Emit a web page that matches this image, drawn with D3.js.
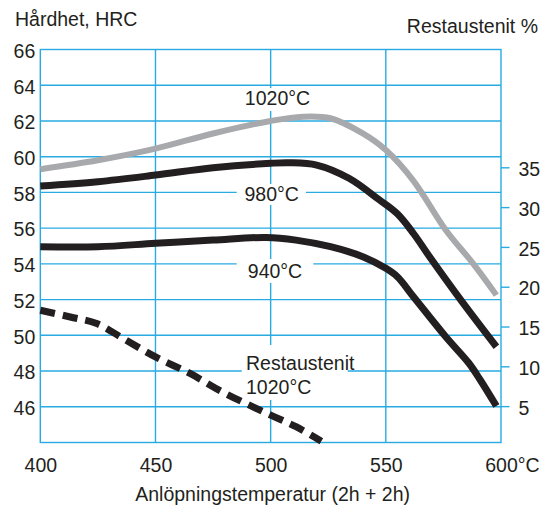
<!DOCTYPE html>
<html>
<head>
<meta charset="utf-8">
<script src="https://cdn.jsdelivr.net/npm/d3@7"></script>
<style>
  html, body { margin: 0; padding: 0; background: #fff; }
  svg { display: block; }
  text { font-family: "Liberation Sans", Arial, Helvetica, sans-serif; fill: #231f20; }
</style>
</head>
<body>
<svg id="chart" width="545" height="508"></svg>
<script>
// ---- data ----
const xTicks = [400, 450, 500, 550, 600];
const yTicks = [46, 48, 50, 52, 54, 56, 58, 60, 62, 64, 66];
const y2Ticks = [5, 10, 15, 20, 25, 30, 35];

const temps1020 = [400, 425, 450, 475, 500, 514, 526, 540, 550, 562, 576, 588, 598];
const hrc1020   = [59.3, 59.8, 60.45, 61.3, 62.0, 62.24, 62.15, 61.3, 60.37, 58.65, 55.9, 54.0, 52.25];

const temps980 = [400, 425, 450, 475, 500, 508, 520, 534, 547, 555, 562, 569, 583, 598];
const hrc980   = [58.36, 58.6, 58.97, 59.38, 59.63, 59.66, 59.53, 58.79, 57.6, 56.8, 55.7, 54.4, 51.9, 49.36];

const temps940 = [400, 425, 450, 475, 498, 511, 526, 540, 550, 555, 562, 576, 586, 591, 598];
const hrc940   = [54.96, 54.96, 55.15, 55.33, 55.48, 55.33, 54.96, 54.4, 53.75, 53.28, 52.16, 49.92, 48.45, 47.5, 46.04];

const tempsRA = [400, 413, 424.5, 436, 450, 465, 479, 500, 511, 522];
const pctRA   = [17.04, 16.2, 15.37, 13.49, 11.18, 9.1, 6.79, 3.87, 2.41, 0.6];

// ---- layout ----
const L = 40.3, R = 501, T = 49.5, B = 442.5;
const blue = "#29abe2", black = "#231f20", grey = "#a7a9ac";
const fs = 19.5;

const svg = d3.select("#chart");
const x = d3.scaleLinear().domain([400, 600]).range([L, R]);
const y = d3.scaleLinear().domain([44, 66]).range([B, T]);
const y2 = d3.scaleLinear().domain([0.43, 49.8]).range([B, T]);

// grid
const grid = svg.append("g").attr("stroke", blue).attr("stroke-width", 1.4).attr("fill", "none");
grid.selectAll("line.h").data(yTicks.filter(d => d < 66)).join("line")
  .attr("x1", L).attr("x2", R).attr("y1", d => y(d)).attr("y2", d => y(d));
grid.selectAll("line.v").data(xTicks.filter(d => d > 400 && d < 600)).join("line")
  .attr("y1", T).attr("y2", B).attr("x1", d => x(d)).attr("x2", d => x(d));
grid.append("rect").attr("x", L).attr("y", T).attr("width", R - L).attr("height", B - T);

// axes
const gx = svg.append("g").attr("transform", `translate(0,${B})`)
  .call(d3.axisBottom(x).tickValues(xTicks).tickSize(0).tickPadding(16).tickFormat(d3.format("d")));
gx.select(".domain").remove();
gx.selectAll("text").attr("font-size", fs).attr("font-family", null).attr("fill", black)
  .each(function(d) {
    if (d === 600) {
      const w = this.getComputedTextLength();
      d3.select(this).attr("text-anchor", "start").attr("x", -w / 2)
        .append("tspan").text("°C");
    }
  });

const gy = svg.append("g").attr("transform", `translate(${L},0)`)
  .call(d3.axisLeft(y).tickValues(yTicks).tickSize(0).tickPadding(5));
gy.select(".domain").remove();
gy.selectAll("text").attr("font-size", fs).attr("font-family", null).attr("fill", black).attr("dy", "0.4em");

const gy2 = svg.append("g").attr("transform", `translate(${R},0)`)
  .call(d3.axisRight(y2).tickValues(y2Ticks).tickSize(8.5).tickPadding(9));
gy2.select(".domain").remove();
gy2.selectAll("line").attr("stroke", blue).attr("stroke-width", 1.4);
gy2.selectAll("text").attr("font-size", fs).attr("font-family", null).attr("fill", black).attr("dy", "0.42em");

// titles
svg.append("text").attr("x", 15).attr("y", 26).attr("font-size", fs).text("Hårdhet, HRC");
svg.append("text").attr("x", 538).attr("y", 32.5).attr("text-anchor", "end").attr("font-size", fs).text("Restaustenit %");
svg.append("text").attr("x", (L + R) / 2 + 2).attr("y", 501).attr("text-anchor", "middle").attr("font-size", fs)
  .text("Anlöpningstemperatur (2h + 2h)");

// curve labels with white boxes
const labels = [
  { lines: ["1020°C"], x: 277.5, y: 105, anchor: "middle", box: [240, 88, 76, 23] },
  { lines: ["980°C"], x: 271.7, y: 200.7, anchor: "middle", box: [236.7, 184, 69.3, 21] },
  { lines: ["940°C"], x: 275, y: 278.3, anchor: "middle", box: [236.7, 259, 76.6, 24] },
  { lines: ["Restaustenit", "1020°C"], x: 246, y: 370, anchor: "start", box: [241.7, 345, 106, 55] }
];
labels.forEach(l => {
  svg.append("rect").attr("x", l.box[0]).attr("y", l.box[1]).attr("width", l.box[2]).attr("height", l.box[3]).attr("fill", "#fff");
  const t = svg.append("text").attr("x", l.x).attr("y", l.y).attr("text-anchor", l.anchor).attr("font-size", fs);
  l.lines.forEach((s, i) => t.append("tspan").attr("x", l.x).attr("dy", i === 0 ? 0 : 24).text(s));
});

// curves
const curve = d3.curveCatmullRom.alpha(0.5);
const line = d3.line().x(d => x(d[0])).y(d => y(d[1])).curve(curve);
const line2 = d3.line().x(d => x(d[0])).y(d => y2(d[1])).curve(curve);
const zip = (a, b) => a.map((v, i) => [v, b[i]]);

svg.append("path").attr("d", line(zip(temps1020, hrc1020))).attr("fill", "none")
  .attr("stroke", grey).attr("stroke-width", 6);
svg.append("path").attr("d", line(zip(temps980, hrc980))).attr("fill", "none")
  .attr("stroke", black).attr("stroke-width", 7);
svg.append("path").attr("d", line(zip(temps940, hrc940))).attr("fill", "none")
  .attr("stroke", black).attr("stroke-width", 7);
svg.append("path").attr("d", line2(zip(tempsRA, pctRA))).attr("fill", "none")
  .attr("stroke", black).attr("stroke-width", 7).attr("stroke-dasharray", "15 8");
</script>
</body>
</html>
